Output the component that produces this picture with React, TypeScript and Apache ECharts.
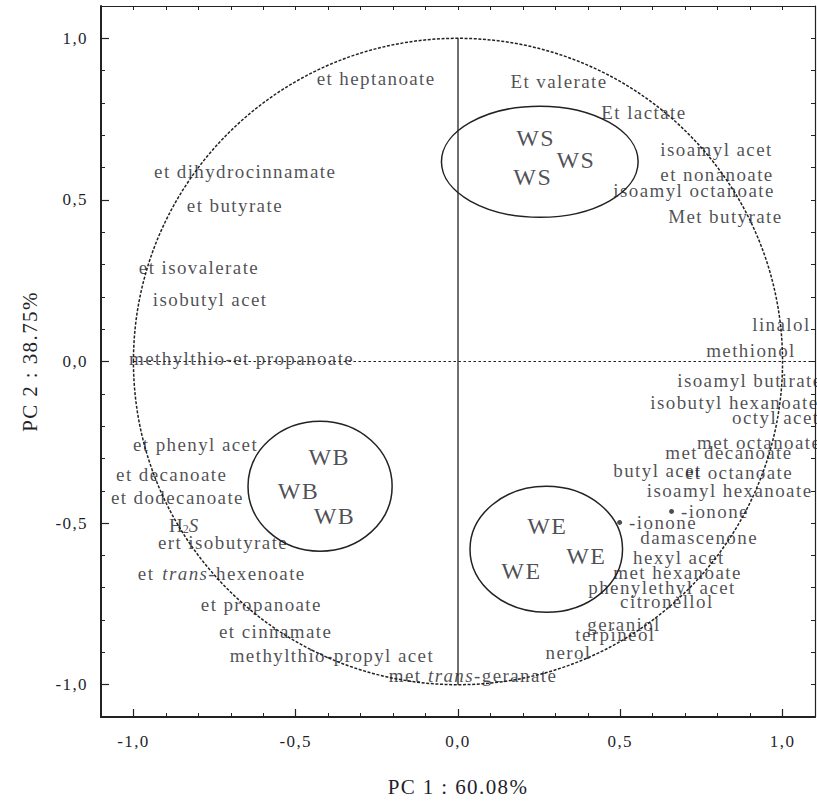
import React, { useEffect, useRef } from 'react';
import * as echarts from 'echarts';

// ---------- data ----------
// variable loadings: [PC1, PC2, label] (label anchor at its left edge)
const upperLeftVars: [number, number, string][] = [
  [-0.437, 0.875, 'et heptanoate'],
  [-0.938, 0.587, 'et dihydrocinnamate'],
  [-0.837, 0.482, 'et butyrate'],
  [-0.985, 0.291, 'et isovalerate'],
  [-0.942, 0.192, 'isobutyl acet'],
  [-1.015, 0.009, 'methylthio-et propanoate'],
];
const upperRightVars: [number, number, string][] = [
  [0.16, 0.866, 'Et valerate'],
  [0.44, 0.77, 'Et lactate'],
  [0.622, 0.655, 'isoamyl acet'],
  [0.622, 0.578, 'et nonanoate'],
  [0.477, 0.529, 'isoamyl octanoate'],
  [0.646, 0.448, 'Met butyrate'],
];
const rightVars: [number, number, string][] = [
  [0.905, 0.114, 'linalol'],
  [0.763, 0.034, 'methionol'],
  [0.674, -0.059, 'isoamyl butirate'],
  [0.591, -0.127, 'isobutyl hexanoate'],
  [0.843, -0.173, 'octyl acet'],
  [0.735, -0.25, 'met octanoate'],
  [0.637, -0.281, 'met decanoate'],
  [0.477, -0.337, 'butyl acet'],
  [0.698, -0.343, 'et octanoate'],
  [0.58, -0.399, 'isoamyl hexanoate'],
];
const lowerRightVars: [number, number, string][] = [
  [0.56, -0.544, 'damascenone'],
  [0.538, -0.606, 'hexyl acet'],
  [0.477, -0.652, 'met hexanoate'],
  [0.4, -0.699, 'phenylethyl acet'],
  [0.498, -0.742, 'citronellol'],
  [0.397, -0.813, 'geraniol'],
  [0.36, -0.844, 'terpineol'],
  [0.268, -0.9, 'nerol'],
  [-0.215, -0.971, 'met {i|trans}-geranate'],
];
const lowerLeftVars: [number, number, string][] = [
  [-1.003, -0.257, 'et phenyl acet'],
  [-1.055, -0.349, 'et decanoate'],
  [-1.071, -0.42, 'et dodecanoate'],
  [-0.892, -0.507, 'H{sub|2}{si|S}'],
  [-0.926, -0.56, 'ert isobutyrate'],
  [-0.988, -0.655, 'et {i|trans}-hexenoate'],
  [-0.794, -0.751, 'et propanoate'],
  [-0.738, -0.835, 'et cinnamate'],
  [-0.705, -0.909, 'methylthio-propyl acet'],
];
// marked variables (dot + label)
const iononeVars: [number, number, string][] = [
  [0.498, -0.498, '-ionone'],
  [0.658, -0.464, '-ionone'],
];
// wine samples
const wsSamples: [number, number, string][] = [
  [0.178, 0.692, 'WS'],
  [0.302, 0.624, 'WS'],
  [0.169, 0.572, 'WS'],
];
const wbSamples: [number, number, string][] = [
  [-0.462, -0.297, 'WB'],
  [-0.557, -0.402, 'WB'],
  [-0.446, -0.479, 'WB'],
];
const weSamples: [number, number, string][] = [
  [0.212, -0.51, 'WE'],
  [0.332, -0.603, 'WE'],
  [0.132, -0.649, 'WE'],
];
// group ellipses: [cx, cy, rx, ry]
const groupEllipses: number[][] = [
  [0.252, 0.618, 0.303, 0.172],
  [-0.425, -0.386, 0.222, 0.201],
  [0.272, -0.581, 0.235, 0.195],
];
const unitCircle: number[][] = [[0, 0, 1, 1]];
const verticalRef: number[][] = [[0, -1], [0, 1]];
const horizontalRef: number[][] = [[-1, 0], [1.1, 0]];

const tickValues = [-1.0, -0.5, 0.0, 0.5, 1.0];
const tickLabels = ['-1,0', '-0,5', '0,0', '0,5', '1,0'];
const minorTicks = [
  -1.1, -1.0, -0.9, -0.8, -0.7, -0.6, -0.5, -0.4, -0.3, -0.2, -0.1, 0.0,
  0.1, 0.2, 0.3, 0.4, 0.5, 0.6, 0.7, 0.8, 0.9, 1.0, 1.1,
];
const xTitle = 'PC 1 : 60.08%';
const yTitle = 'PC 2 : 38.75%';

// ---------- styling ----------
const FONT = '"Liberation Serif", "Times New Roman", serif';
const INK = '#1f1f2b';

const fmtTick = (v: number) => {
  const i = tickValues.findIndex((t) => Math.abs(t - v) < 1e-6);
  return i >= 0 ? tickLabels[i] : '';
};

function labelSeries(data: [number, number, string][], fontSize: number, withDot = false) {
  return {
    type: 'scatter',
    xAxisIndex: 0,
    yAxisIndex: 0,
    silent: true,
    clip: false,
    symbol: 'circle',
    symbolSize: withDot ? 5 : 1,
    itemStyle: { color: withDot ? INK : 'transparent' },
    data: data.map(([x, y, n]) => ({ value: [x, y], name: n })),
    label: {
      show: true,
      position: 'right',
      distance: withDot ? 7 : 0,
      formatter: (p: any) => p.name,
      color: INK,
      fontFamily: FONT,
      fontSize,
      rich: {
        i: { fontStyle: 'italic', fontFamily: FONT, fontSize, color: INK, padding: [0, 7, 0, 6] },
        si: { fontStyle: 'italic', fontFamily: FONT, fontSize, color: INK },
        sub: { fontFamily: FONT, fontSize: 12, color: INK, verticalAlign: 'bottom', padding: [0, 0, 0, 0] },
      },
    },
  };
}

function ellipseSeries(data: number[][], dashed: boolean) {
  return {
    type: 'custom',
    xAxisIndex: 0,
    yAxisIndex: 0,
    silent: true,
    clip: false,
    data,
    renderItem: (_params: any, api: any) => {
      const c = api.coord([api.value(0), api.value(1)]);
      const s = api.size([api.value(2), api.value(3)]);
      return {
        type: 'ellipse',
        shape: { cx: c[0], cy: c[1], rx: s[0], ry: s[1] },
        style: {
          fill: 'none',
          stroke: '#222',
          lineWidth: 1.5,
          lineDash: dashed ? [3, 1.6] : null,
        },
      };
    },
  };
}

const baseAxis = {
  type: 'value',
  min: -1.1,
  max: 1.1,
  splitLine: { show: false },
};

export default function App() {
  const ref = useRef<HTMLDivElement>(null);

  useEffect(() => {
    document.body.style.margin = '0';
    if (!ref.current) return;
    const chart = echarts.init(ref.current, null, { renderer: 'svg' });
    const labelStyle = { fontFamily: FONT, fontSize: 17, color: INK };
    chart.setOption({
      animation: false,
      backgroundColor: '#ffffff',
      grid: { left: 101, right: 2, top: 6, bottom: 84, containLabel: false },
      xAxis: [
        {
          ...baseAxis,
          position: 'bottom',
          axisLine: { show: true, onZero: false, lineStyle: { color: '#222', width: 2 } },
          axisTick: { show: true, inside: true, length: 8, customValues: tickValues, lineStyle: { color: '#222', width: 1.2 } },
          axisLabel: { show: true, customValues: tickValues, formatter: fmtTick, margin: 16, ...labelStyle },
          name: xTitle,
          nameLocation: 'middle',
          nameGap: 59,
          nameTextStyle: { fontFamily: FONT, fontSize: 21, color: INK },
        },
        {
          ...baseAxis,
          position: 'bottom',
          axisLine: { show: false, onZero: false },
          axisTick: { show: true, inside: true, length: 4, customValues: minorTicks, lineStyle: { color: '#222', width: 1 } },
          axisLabel: { show: false },
        },
        {
          ...baseAxis,
          position: 'top',
          axisLine: { show: true, onZero: false, lineStyle: { color: '#222', width: 1.2 } },
          axisTick: { show: true, inside: true, length: 4, customValues: minorTicks, lineStyle: { color: '#222', width: 1 } },
          axisLabel: { show: false },
        },
      ],
      yAxis: [
        {
          ...baseAxis,
          position: 'left',
          axisLine: { show: true, onZero: false, lineStyle: { color: '#222', width: 2 } },
          axisTick: { show: true, inside: true, length: 8, customValues: tickValues, lineStyle: { color: '#222', width: 1.2 } },
          axisLabel: { show: true, customValues: tickValues, formatter: fmtTick, margin: 13, ...labelStyle },
          name: yTitle,
          nameLocation: 'middle',
          nameGap: 61,
          nameRotate: 90,
          nameTextStyle: { fontFamily: FONT, fontSize: 21, color: INK },
        },
        {
          ...baseAxis,
          position: 'left',
          axisLine: { show: false, onZero: false },
          axisTick: { show: true, inside: true, length: 4, customValues: minorTicks, lineStyle: { color: '#222', width: 1 } },
          axisLabel: { show: false },
        },
        {
          ...baseAxis,
          position: 'right',
          axisLine: { show: true, onZero: false, lineStyle: { color: '#222', width: 1.2 } },
          axisTick: { show: true, inside: true, length: 4, customValues: minorTicks, lineStyle: { color: '#222', width: 1 } },
          axisLabel: { show: false },
        },
      ],
      series: [
        {
          type: 'line',
          xAxisIndex: 0,
          yAxisIndex: 0,
          silent: true,
          symbol: 'none',
          data: verticalRef,
          lineStyle: { color: '#222', width: 1.3 },
        },
        {
          type: 'line',
          xAxisIndex: 0,
          yAxisIndex: 0,
          silent: true,
          symbol: 'none',
          data: horizontalRef,
          lineStyle: { color: '#222', width: 1.2, type: [2.5, 2.5] },
        },
        ellipseSeries(unitCircle, true),
        ellipseSeries(groupEllipses, false),
        labelSeries(upperLeftVars, 19),
        labelSeries(upperRightVars, 19),
        labelSeries(rightVars, 19),
        labelSeries(lowerRightVars, 19),
        labelSeries(lowerLeftVars, 19),
        labelSeries(iononeVars, 19, true),
        labelSeries(wsSamples, 24),
        labelSeries(wbSamples, 24),
        labelSeries(weSamples, 24),
      ],
    });
    return () => chart.dispose();
  }, []);

  return (
    <div>
      <style>{'.pca-chart text{letter-spacing:1.4px;}'}</style>
      <div className="pca-chart" ref={ref} style={{ width: 817, height: 802 }} />
    </div>
  );
}
